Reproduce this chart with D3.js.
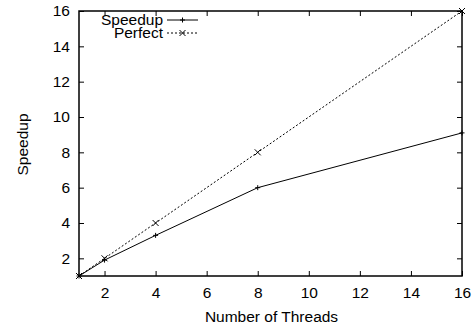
<!DOCTYPE html>
<html>
<head>
<meta charset="utf-8">
<script src="https://cdn.jsdelivr.net/npm/d3@7"></script>
<style>
  body { margin: 0; background: #fff; }
  text { font-family: "Liberation Sans", Arial, sans-serif; fill: #000; }
</style>
</head>
<body>
<div id="chart"></div>
<script>
// data
var threads = [1, 2, 4, 8, 16];
var speedup = [1, 1.9, 3.3, 6, 9.1];
var perfect = [1, 2, 4, 8, 16];
var xTicks = [2, 4, 6, 8, 10, 12, 14, 16];
var yTicks = [2, 4, 6, 8, 10, 12, 14, 16];

var svgWidth = 476, svgHeight = 327;
var margin = { top: 11, right: 14, bottom: 51, left: 79 };
var width = svgWidth - margin.left - margin.right;
var height = svgHeight - margin.top - margin.bottom;
var fontSize = "15.5px";

var svg = d3.select("#chart").append("svg")
    .attr("width", svgWidth)
    .attr("height", svgHeight);

var g = svg.append("g")
    .attr("transform", `translate(${margin.left}, ${margin.top})`);

var x = d3.scaleLinear().domain([1, 16]).range([0, width]);
var y = d3.scaleLinear().domain([1, 16]).range([height, 0]);

// axes, ticks mirrored on all four sides
function styleAxis(sel) {
    sel.select(".domain").remove();
    sel.selectAll("line").attr("stroke", "#000").attr("stroke-width", 1);
    sel.selectAll("text").attr("font-size", fontSize);
}
function tickOnly(sel) {
    styleAxis(sel);
    sel.selectAll("text").remove();
}

g.append("g").attr("transform", `translate(0, ${height})`)
    .call(d3.axisTop(x).tickValues(xTicks).tickSize(5))
    .call(tickOnly);
g.append("g").attr("transform", `translate(0, ${height})`)
    .call(d3.axisBottom(x).tickValues(xTicks).tickSize(0).tickPadding(11))
    .call(styleAxis);
g.append("g")
    .call(d3.axisBottom(x).tickValues(xTicks).tickSize(5))
    .call(tickOnly);
g.append("g")
    .call(d3.axisRight(y).tickValues(yTicks).tickSize(5))
    .call(tickOnly);
g.append("g")
    .call(d3.axisLeft(y).tickValues(yTicks).tickSize(0).tickPadding(9))
    .call(styleAxis);
g.append("g").attr("transform", `translate(${width}, 0)`)
    .call(d3.axisLeft(y).tickValues(yTicks).tickSize(5))
    .call(tickOnly);

g.append("rect")
    .attr("width", width).attr("height", height)
    .attr("fill", "none").attr("stroke", "#000").attr("stroke-width", 1.5);

// lines
var line = d3.line().x(d => x(d[0])).y(d => y(d[1]));
var sData = threads.map((t, i) => [t, speedup[i]]);
var pData = threads.map((t, i) => [t, perfect[i]]);

g.append("path").datum(pData)
    .attr("d", line).attr("fill", "none").attr("stroke", "#000")
    .attr("stroke-width", 1).attr("stroke-dasharray", "2,2");
g.append("path").datum(sData)
    .attr("d", line).attr("fill", "none").attr("stroke", "#000")
    .attr("stroke-width", 1);

function plus(sel, cx, cy) {
    sel.append("path")
        .attr("d", `M${cx - 2.5},${cy}h5M${cx},${cy - 2.5}v5`)
        .attr("stroke", "#000").attr("stroke-width", 1);
}
function cross(sel, cx, cy) {
    sel.append("path")
        .attr("d", `M${cx - 3},${cy - 3}l6,6M${cx - 3},${cy + 3}l6,-6`)
        .attr("stroke", "#000").attr("stroke-width", 1);
}
sData.forEach(d => plus(g, x(d[0]), y(d[1])));
pData.forEach(d => cross(g, x(d[0]), y(d[1])));

// legend
var legend = svg.append("g");
legend.append("text").attr("x", 163).attr("y", 25)
    .attr("text-anchor", "end").attr("font-size", fontSize).text("Speedup");
legend.append("line").attr("x1", 167).attr("x2", 198).attr("y1", 20).attr("y2", 20)
    .attr("stroke", "#000");
plus(legend, 182.5, 20);
legend.append("text").attr("x", 163).attr("y", 38)
    .attr("text-anchor", "end").attr("font-size", fontSize).text("Perfect");
legend.append("line").attr("x1", 167).attr("x2", 198).attr("y1", 33).attr("y2", 33)
    .attr("stroke", "#000").attr("stroke-dasharray", "2,2");
cross(legend, 182.5, 33);

// axis titles
svg.append("text")
    .attr("x", margin.left + width / 2 + 1).attr("y", 322)
    .attr("text-anchor", "middle").attr("font-size", fontSize)
    .text("Number of Threads");
svg.append("text")
    .attr("transform", `translate(28, ${margin.top + height / 2 + 1}) rotate(-90)`)
    .attr("text-anchor", "middle").attr("font-size", fontSize)
    .text("Speedup");
</script>
</body>
</html>
